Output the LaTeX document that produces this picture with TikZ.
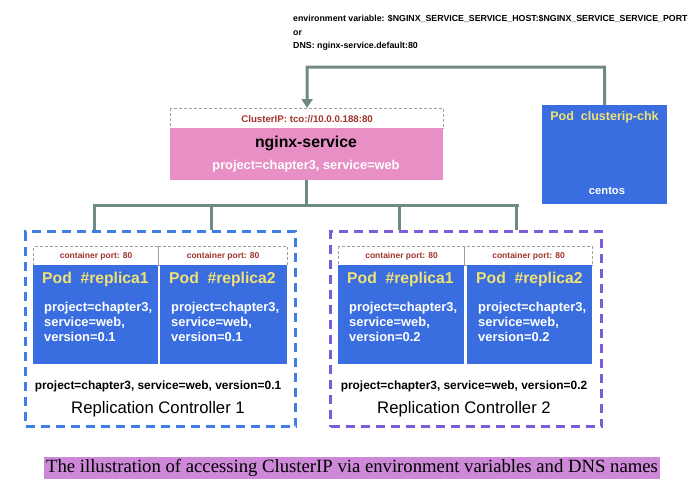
\documentclass[tikz,border=0pt]{standalone}
\usepackage{fontspec}
\setmainfont{Liberation Sans}
\newfontfamily\capfont{Liberation Serif}
\usetikzlibrary{arrows.meta}
\definecolor{conn}{HTML}{6F8A84}
\definecolor{pinkbox}{HTML}{E890C6}
\definecolor{podblue}{HTML}{3A6EE0}
\definecolor{podyellow}{HTML}{F0E274}
\definecolor{portred}{HTML}{A0342C}
\definecolor{rcblue}{HTML}{3E7CE6}
\definecolor{rcpurple}{HTML}{7D5CD8}
\definecolor{capbg}{HTML}{CD88D8}
\tikzset{
  conline/.style={draw=conn, line width=3pt},
  portbox/.style={draw=gray!75, dash pattern=on 3pt off 2pt, line width=1.2pt, anchor=north west, inner sep=0pt, font=\fontsize{8.5}{10}\selectfont\bfseries, text=portred},
  podbox/.style={fill=podblue, anchor=north west, inner sep=0pt},
  rcbox/.style={dash pattern=on 9pt off 6pt, line width=3pt, anchor=north west, inner sep=0pt},
  podtitle/.style={anchor=west, text=podyellow, font=\fontsize{15.7}{18}\selectfont\bfseries, inner sep=0pt},
  podlabel/.style={anchor=north west, text=white, align=left, font=\fontsize{12.9}{15}\selectfont\bfseries, inner sep=0pt},
  rclabel/.style={anchor=center, text=black, font=\fontsize{11.9}{14}\selectfont\bfseries, inner sep=0pt},
  rcname/.style={anchor=center, text=black, font=\fontsize{16.7}{19}\selectfont, inner sep=0pt},
}
\begin{document}
\begin{tikzpicture}[x=1pt,y=-1pt]
\useasboundingbox (0,0) rectangle (699,493);
% top text
\node[anchor=west, inner sep=0pt, align=left, font=\fontsize{8.8}{13.5}\selectfont\bfseries] (envtext) at (293,33)
  {environment variable: \$NGINX\_SERVICE\_SERVICE\_HOST:\$NGINX\_SERVICE\_SERVICE\_PORT\\or\\DNS: nginx-service.default:80};
% service
\node[portbox, minimum width=273pt, minimum height=20pt, font=\fontsize{9.7}{11}\selectfont\bfseries] (cip) at (170,108) {ClusterIP: tco://10.0.0.188:80};
\node[fill=pinkbox, anchor=north west, inner sep=0pt, minimum width=273pt, minimum height=52pt] (svc) at (170,128) {};
\node[anchor=center, inner sep=0pt, font=\fontsize{15.8}{18}\selectfont\bfseries] (svcname) at (306,143) {nginx-service};
\node[anchor=center, inner sep=0pt, text=white, font=\fontsize{12.8}{15}\selectfont\bfseries] (svclabel) at (306,166) {project=chapter3, service=web};
% clusterip-chk pod
\node[podbox, minimum width=125pt, minimum height=99pt] (chk) at (542,105) {};
\node[anchor=center, inner sep=0pt, text=podyellow, font=\fontsize{12.5}{15}\selectfont\bfseries] (chktitle) at (604.5,117) {Pod\ \ clusterip-chk};
\node[anchor=center, inner sep=0pt, text=white, font=\fontsize{11.2}{13}\selectfont\bfseries] (chkos) at (607,191) {centos};
% RC1
\node[rcbox, draw=rcblue, minimum width=270pt, minimum height=195pt] (rc1) at (24,230) {};
\node[portbox, minimum width=125pt, minimum height=19pt] (pt11) at (33,246) {container port: 80};
\node[portbox, minimum width=129pt, minimum height=19pt] (pt12) at (158,246) {container port: 80};
\node[podbox, minimum width=125pt, minimum height=99pt] (p11) at (33,265) {};
\node[podbox, minimum width=127pt, minimum height=99pt] (p12) at (160,265) {};
\node[podtitle] (t11) at (42,279) {Pod\ \ \#replica1};
\node[podtitle] (t12) at (169,279) {Pod\ \ \#replica2};
\node[podlabel] (l11) at (44,302) {project=chapter3,\\service=web,\\version=0.1};
\node[podlabel] (l12) at (171,302) {project=chapter3,\\service=web,\\version=0.1};
\node[rclabel] (rl1) at (158,386) {project=chapter3, service=web, version=0.1};
\node[rcname] (rn1) at (158,409) {Replication Controller 1};
% RC2
\node[rcbox, draw=rcpurple, minimum width=271pt, minimum height=195pt] (rc2) at (329,230) {};
\node[portbox, minimum width=126pt, minimum height=19pt] (pt21) at (338,246) {container port: 80};
\node[portbox, minimum width=128pt, minimum height=19pt] (pt22) at (464,246) {container port: 80};
\node[podbox, minimum width=126pt, minimum height=99pt] (p21) at (338,265) {};
\node[podbox, minimum width=125pt, minimum height=99pt] (p22) at (467,265) {};
\node[podtitle] (t21) at (347,279) {Pod\ \ \#replica1};
\node[podtitle] (t22) at (476,279) {Pod\ \ \#replica2};
\node[podlabel] (l21) at (349,302) {project=chapter3,\\service=web,\\version=0.2};
\node[podlabel] (l22) at (478,302) {project=chapter3,\\service=web,\\version=0.2};
\node[rclabel] (rl2) at (464,386) {project=chapter3, service=web, version=0.2};
\node[rcname] (rn2) at (464,409) {Replication Controller 2};
% connectors
\coordinate (busL) at (94,205);
\coordinate (busR) at (517,205);
\coordinate (d1) at (94,205);
\coordinate (d2) at (211,205);
\coordinate (d3) at (399,205);
\coordinate (d4) at (516,205);
\draw[conline] (svc.south) -- (svc.south |- busL);
\draw[conline, line cap=rect] (busL) -- (busR);
\draw[conline] (d1) -- (d1 |- rc1.north);
\draw[conline] (d2) -- (d2 |- rc1.north);
\draw[conline] (d3) -- (d3 |- rc2.north);
\draw[conline] (d4) -- (d4 |- rc2.north);
\coordinate (topR) at (604.5,67);
\draw[conline, line join=miter, -{Triangle[width=11pt,length=9pt]}] (chk.north) -- (topR) -| (cip.north);
% caption
\node[fill=capbg, anchor=center, inner xsep=2pt, inner ysep=2pt, font=\capfont\fontsize{18.7}{21}\selectfont] (caption) at (352,468) {The illustration of accessing ClusterIP via environment variables and DNS names};
\end{tikzpicture}
\end{document}
